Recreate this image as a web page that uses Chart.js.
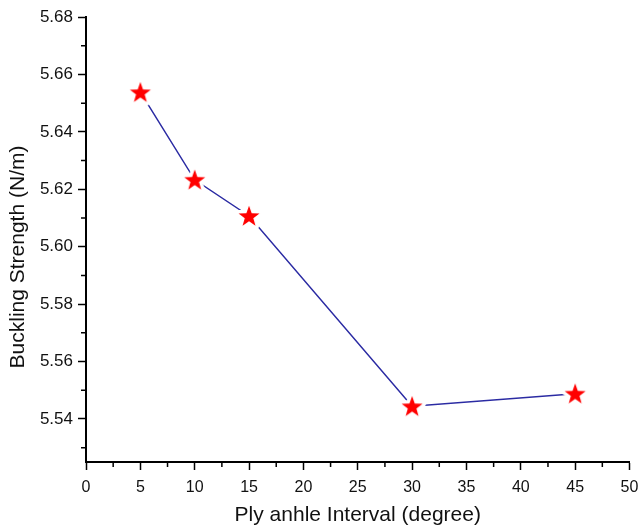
<!DOCTYPE html>
<html><head><meta charset="utf-8">
<script src="https://cdn.jsdelivr.net/npm/chart.js@4/dist/chart.umd.min.js"></script>
<style>html,body{margin:0;padding:0;background:#fff}#wrap{width:642px;height:528px}</style>
</head><body><div id="wrap"><canvas id="c" width="642" height="528"></canvas></div>
<script>
const plyAngle = [5, 10, 15, 30, 45];
const bucklingStrength = [5.6538, 5.6233, 5.6107, 5.5444, 5.5488];
const xTicks = [0, 5, 10, 15, 20, 25, 30, 35, 40, 45, 50];
const xMinorTicks = [2.5, 7.5, 12.5, 17.5, 22.5, 27.5, 32.5, 37.5, 42.5, 47.5];
const yTicks = [5.54, 5.56, 5.58, 5.60, 5.62, 5.64, 5.66, 5.68];
const yMinorTicks = [5.53, 5.55, 5.57, 5.59, 5.61, 5.63, 5.65, 5.67];

function makeStar() {
  const s = 32, c = document.createElement('canvas');
  c.width = s; c.height = s;
  const g = c.getContext('2d');
  const R = 11, r = 4.5, cx = s/2, cy = s/2 + 0.8;
  g.beginPath();
  for (let i = 0; i < 10; i++) {
    const rad = i % 2 ? r : R;
    const a = -Math.PI/2 + i*Math.PI/5;
    const px = cx + rad*Math.cos(a), py = cy + rad*Math.sin(a);
    i ? g.lineTo(px, py) : g.moveTo(px, py);
  }
  g.closePath();
  g.lineJoin = 'round';
  g.strokeStyle = '#fff'; g.lineWidth = 7; g.stroke();
  g.fillStyle = '#ff0000'; g.fill();
  return c;
}
const star = makeStar();

const minorTicks = {
  id: 'minorTicks',
  afterDraw(chart) {
    const ctx = chart.ctx, xs = chart.scales.x, ys = chart.scales.y;
    const area = chart.chartArea;
    ctx.save();
    ctx.strokeStyle = '#000'; ctx.lineWidth = 1.5;
    ctx.beginPath();
    xMinorTicks.forEach(v => { const p = xs.getPixelForValue(v); ctx.moveTo(p, area.bottom); ctx.lineTo(p, area.bottom + 5); });
    yMinorTicks.forEach(v => { const p = ys.getPixelForValue(v); ctx.moveTo(area.left, p); ctx.lineTo(area.left - 5, p); });
    ctx.stroke();
    ctx.restore();
  }
};

const font = "'Liberation Sans', Arial, sans-serif";
new Chart(document.getElementById('c'), {
  type: 'line',
  data: {
    datasets: [{
      data: plyAngle.map((x, i) => ({x, y: bucklingStrength[i]})),
      borderColor: '#2b2ba3',
      borderWidth: 1.5,
      pointStyle: star,
      pointRadius: 11,
      pointHoverRadius: 11,
      tension: 0
    }]
  },
  options: {
    responsive: false,
    animation: false,
    events: [],
    layout: { padding: { top: 17, right: 12, left: 0, bottom: 0 } },
    plugins: { legend: { display: false }, tooltip: { enabled: false } },
    scales: {
      x: {
        type: 'linear', min: 0, max: 50,
        afterBuildTicks: s => { s.ticks = xTicks.map(v => ({value: v})); },
        afterFit: s => { s.height = 66; s.paddingRight = 0; s.paddingLeft = 0; },
        grid: { drawOnChartArea: false, tickLength: 8, tickColor: '#000', tickWidth: 1.5 },
        border: { color: '#000', width: 2 },
        ticks: { color: '#111', font: { family: font, size: 16 }, padding: 8, maxRotation: 0, autoSkip: false },
        title: { display: true, text: 'Ply anhle Interval (degree)', color: '#111', font: { family: font, size: 21 }, padding: { top: 0, bottom: 0 } }
      },
      y: {
        type: 'linear', min: 5.525, max: 5.68,
        afterBuildTicks: s => { s.ticks = yTicks.map(v => ({value: v})); },
        afterFit: s => { s.width = 86; s.paddingTop = 0; s.paddingBottom = 0; },
        grid: { drawOnChartArea: false, tickLength: 8, tickColor: '#000', tickWidth: 1.5 },
        border: { color: '#000', width: 2 },
        ticks: { color: '#111', font: { family: font, size: 17 }, padding: 5, autoSkip: false, callback: v => Number(v).toFixed(2) },
        title: { display: true, text: 'Buckling Strength (N/m)\u00a0\u00a0\u00a0\u00a0\u00a0\u00a0', color: '#111', font: { family: font, size: 21 }, padding: { top: 6, bottom: 0 } }
      }
    }
  },
  plugins: [minorTicks]
});
</script></body></html>
